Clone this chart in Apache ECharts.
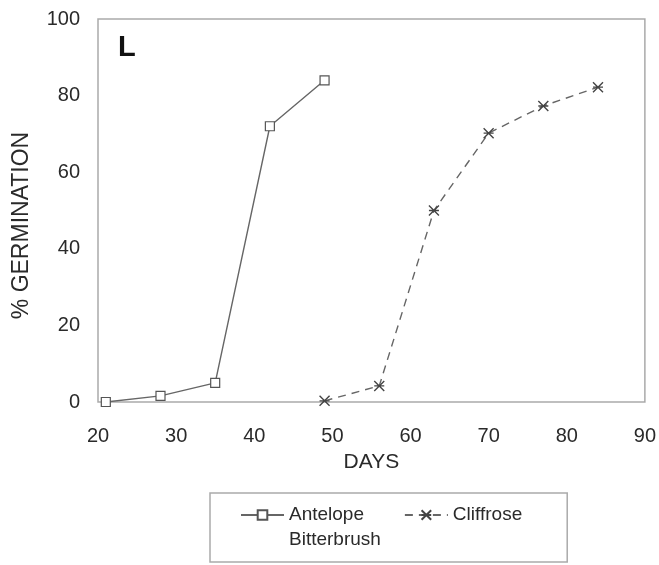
<!DOCTYPE html>
<html>
<head>
<meta charset="utf-8">
<script src="https://cdn.jsdelivr.net/npm/echarts@6/dist/echarts.min.js"></script>
<style>html,body{margin:0;padding:0;background:#fff}#c{width:659px;height:565px}</style>
</head>
<body>
<div id="c"></div>
<script>
var xTicks = [20, 30, 40, 50, 60, 70, 80, 90];
var yTicks = [0, 20, 40, 60, 80, 100];
var antelopeDays = [21, 28, 35, 42, 49];
var antelopeGerm = [0, 1.6, 5, 72, 84];
var cliffroseDays = [49, 56, 63, 70, 77, 84];
var cliffroseGerm = [0.3, 4.2, 50, 70.2, 77.3, 82.2];

var FONT = 'Liberation Sans, Arial, sans-serif';
var TXT = '#2a2a2a';
var xPairs = antelopeDays.map(function (d, i) { return [d, antelopeGerm[i]]; });
var cPairs = cliffroseDays.map(function (d, i) { return [d, cliffroseGerm[i]]; });

var chart = echarts.init(document.getElementById('c'));
chart.setOption({
  animation: false,
  backgroundColor: '#fff',
  textStyle: { fontFamily: FONT },
  title: {
    text: 'L', left: 113, top: 28,
    textStyle: { fontSize: 29, fontWeight: 'bold', color: '#111', fontFamily: FONT }
  },
  grid: {
    left: 98, right: 13, top: 19, bottom: 163,
    show: true, borderColor: '#aaa', borderWidth: 1.5
  },
  xAxis: {
    type: 'value', min: xTicks[0], max: xTicks[xTicks.length - 1], interval: 10,
    name: 'DAYS', nameLocation: 'middle', nameGap: 50,
    nameTextStyle: { fontSize: 21, color: TXT, fontFamily: FONT },
    axisLine: { show: false }, axisTick: { show: false }, splitLine: { show: false },
    axisLabel: { fontSize: 20, color: TXT, margin: 24, fontFamily: FONT }
  },
  yAxis: {
    type: 'value', min: yTicks[0], max: yTicks[yTicks.length - 1], interval: 20,
    name: '% GERMINATION', nameLocation: 'middle', nameGap: 65,
    nameTextStyle: { fontSize: 23, color: TXT, fontFamily: FONT, padding: [0, 30, 0, 0] },
    axisLine: { show: false }, axisTick: { show: false }, splitLine: { show: false },
    axisLabel: { fontSize: 20, color: TXT, margin: 18, fontFamily: FONT }
  },
  legend: {
    left: 210, top: 493,
    orient: 'horizontal',
    padding: [-15.5, 45, 9.5, 30],
    itemGap: 23, itemWidth: 43, itemHeight: 12,
    borderColor: '#aaa', borderWidth: 1.5, borderRadius: 0,
    formatter: function (n) { return n === 'Cliffrose' ? 'Cliffrose' : '\nAntelope\nBitterbrush'; },
    textStyle: { fontSize: 19, color: TXT, lineHeight: 25, fontFamily: FONT },
    data: ['Antelope Bitterbrush', 'Cliffrose']
  },
  series: [
    {
      name: 'Antelope Bitterbrush', type: 'line', data: xPairs,
      symbol: 'rect', symbolSize: 9,
      lineStyle: { color: '#666', width: 1.4, type: 'solid' },
      itemStyle: { color: '#fff', borderColor: '#555', borderWidth: 1.2 }
    },
    {
      name: 'Cliffrose', type: 'line', data: cPairs,
      symbol: 'path://M0,0L10,10M10,0L0,10M0,5L10,5', symbolSize: 10,
      lineStyle: { color: '#666', width: 1.4, type: [8, 6] },
      itemStyle: { color: 'rgba(0,0,0,0)', borderColor: '#444', borderWidth: 1.4 }
    }
  ]
});
</script>
</body>
</html>
